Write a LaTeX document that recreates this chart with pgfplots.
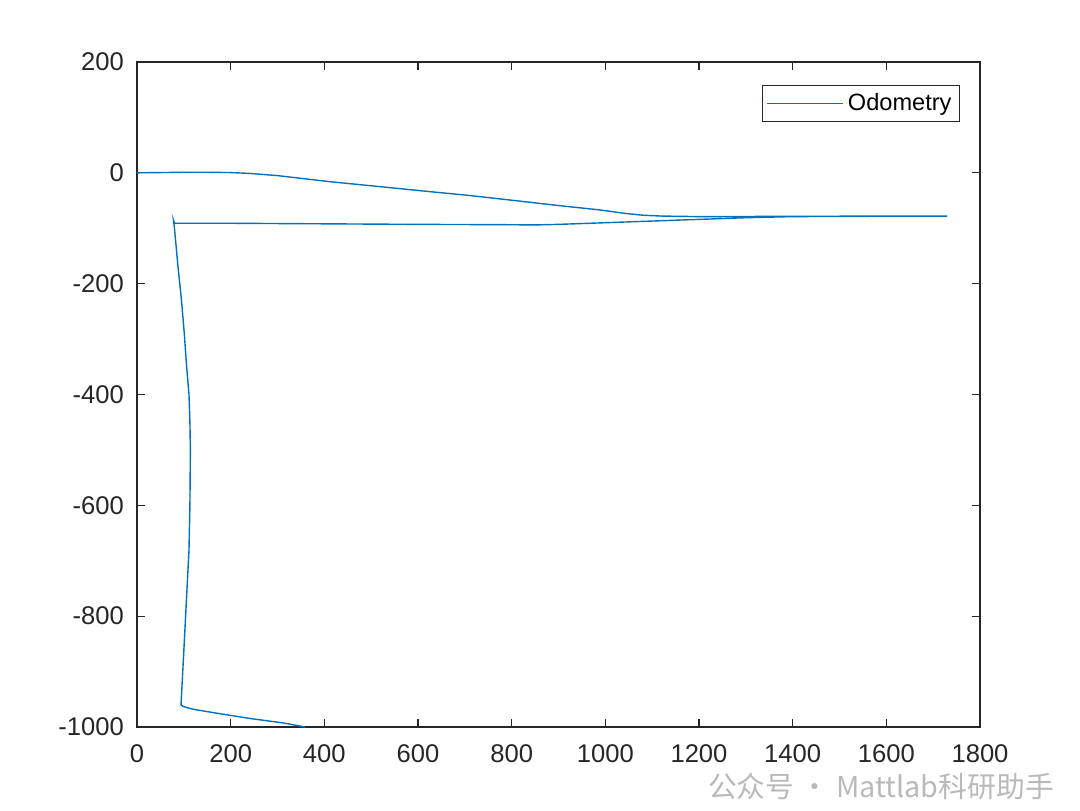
\documentclass[border=0pt]{standalone}
\usepackage{pgfplots}
\pgfplotsset{compat=1.18}
\usepackage{fontspec}
\setmainfont{Liberation Sans}
\newfontfamily\cjk{Noto Sans CJK SC}
\definecolor{mblue}{RGB}{0,114,189}
\definecolor{axgray}{RGB}{38,38,38}
\begin{document}
\begin{tikzpicture}
\useasboundingbox (-68.5pt,-41.5pt) rectangle (471.5pt,363.5pt);
\begin{axis}[
  at={(0,0)}, anchor=south west,
  scale only axis,
  width=421.5pt, height=332.5pt,
  xmin=0, xmax=1800, ymin=-1000, ymax=200,
  xtick={0,200,...,1800},
  ytick={-1000,-800,...,200},
  tick align=inside,
  major tick length=4pt,
  axis line style={axgray, line width=0.6pt},
  every tick/.style={axgray, line width=0.6pt},
  tick label style={font=\fontsize{12.8}{15}\selectfont, text=axgray},
  /pgf/number format/assume math mode=true,
  /pgf/number format/1000 sep={},
  xticklabel style={yshift=-5.5pt},
  yticklabel style={xshift=-3pt},
  legend style={at={(1,1)}, xshift=-10pt, yshift=-11.5pt, anchor=north east,
    draw=axgray, line width=0.5pt, font=\fontsize{11.8}{14}\selectfont,
    inner xsep=2pt, inner ysep=2pt},
  legend cell align=left,
  legend image code/.code={\draw[#1] (0pt,0pt) -- (38pt,0pt);},
]
\addplot[mblue, line width=0.7pt] coordinates {
(0,0) (50,0.5) (100,1) (150,1) (200,0.5) (240,-1) (300,-5) (412,-16) (520,-25)
(626,-34) (700,-40) (775,-47) (900,-59) (989,-67) (1040,-73) (1080,-76.5) (1120,-78)
(1200,-79) (1400,-78.5) (1600,-78) (1730,-78)
(1600,-78.3) (1400,-79) (1300,-81) (1200,-84) (1100,-87) (1000,-90) (900,-93)
(850,-94) (775,-93.5) (600,-93) (400,-92) (200,-91) (80,-91) (78,-86)
(80,-100) (87.5,-169) (95,-230) (101,-290) (106,-350) (111,-400) (113,-450)
(114,-500) (113,-600) (111,-681) (102,-830) (94,-960)
(99,-963) (120,-968) (170,-975) (241,-984.6) (312,-992.6) (359,-1000)
};
\addlegendentry{Odometry}
\end{axis}
\node[anchor=west, text=gray!55, font=\cjk\fontsize{14.4}{16}\selectfont] at (282pt,-30pt) {公众号 · Mattlab科研助手};
\end{tikzpicture}
\end{document}
